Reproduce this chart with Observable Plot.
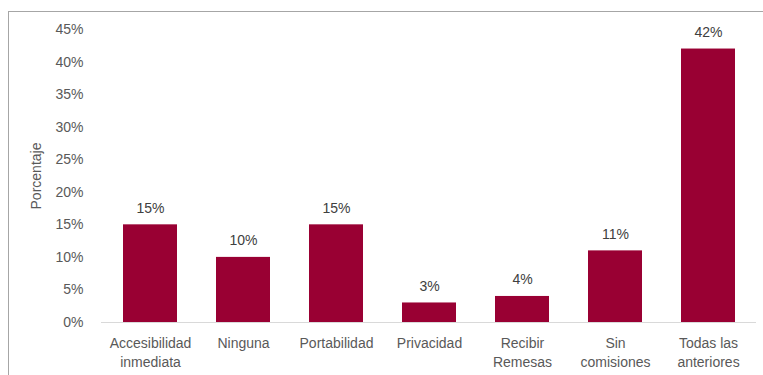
<!DOCTYPE html>
<html>
<head>
<meta charset="utf-8">
<script src="https://cdn.jsdelivr.net/npm/d3@7"></script>
<script src="https://cdn.jsdelivr.net/npm/@observablehq/plot@0.6"></script>
<style>
  body { margin: 0; background: #fff; font-family: "Liberation Sans", Arial, sans-serif; }
  #wrap { position: relative; width: 763px; height: 375px; overflow: hidden; }
  #frame { position: absolute; left: 8px; top: 11px; width: 800px; height: 400px; border: 1px solid #a6a6a6; box-sizing: border-box; pointer-events: none; }
  svg { position: absolute; left: 0; top: 0; }
</style>
</head>
<body>
<div id="wrap"><div id="frame"></div></div>
<script>
const categories = ["Accesibilidad\ninmediata", "Ninguna", "Portabilidad", "Privacidad", "Recibir\nRemesas", "Sin\ncomisiones", "Todas las\nanteriores"];
const values = [15, 10, 15, 3, 4, 11, 42];
const yTicks = [0, 5, 10, 15, 20, 25, 30, 35, 40, 45];

const data = categories.map((c, i) => ({category: c, value: values[i]}));

const chart = Plot.plot({
  width: 763,
  height: 375,
  marginLeft: 101,
  marginRight: 7,
  marginTop: 29,
  marginBottom: 53,
  style: {fontFamily: "'Liberation Sans', Arial, sans-serif", fontSize: "14px", color: "#595959", background: "transparent"},
  x: {domain: categories, paddingInner: 0.42, paddingOuter: 0.21},
  y: {domain: [0, 45]},
  marks: [
    Plot.barY(data, {x: "category", y: "value", fill: "#990033"}),
    Plot.ruleY([0], {stroke: "#d9d9d9", strokeWidth: 1}),
    Plot.text(data, {x: "category", y: "value", text: d => d.value + "%", lineAnchor: "bottom", dy: -12, fill: "#404040", fontSize: 14}),
    Plot.axisY({ticks: yTicks, tickFormat: d => d + "%", tickSize: 0, tickPadding: 18, fontSize: 14, label: "Porcentaje", labelAnchor: "center", labelArrow: "none", labelOffset: 70, fill: "#595959"}),
    Plot.axisX({tickSize: 0, tickPadding: 12, fontSize: 14, label: null, lineHeight: 1.35, fill: "#595959"})
  ]
});
document.getElementById("wrap").insertBefore(chart, document.getElementById("frame"));
</script>
</body>
</html>
